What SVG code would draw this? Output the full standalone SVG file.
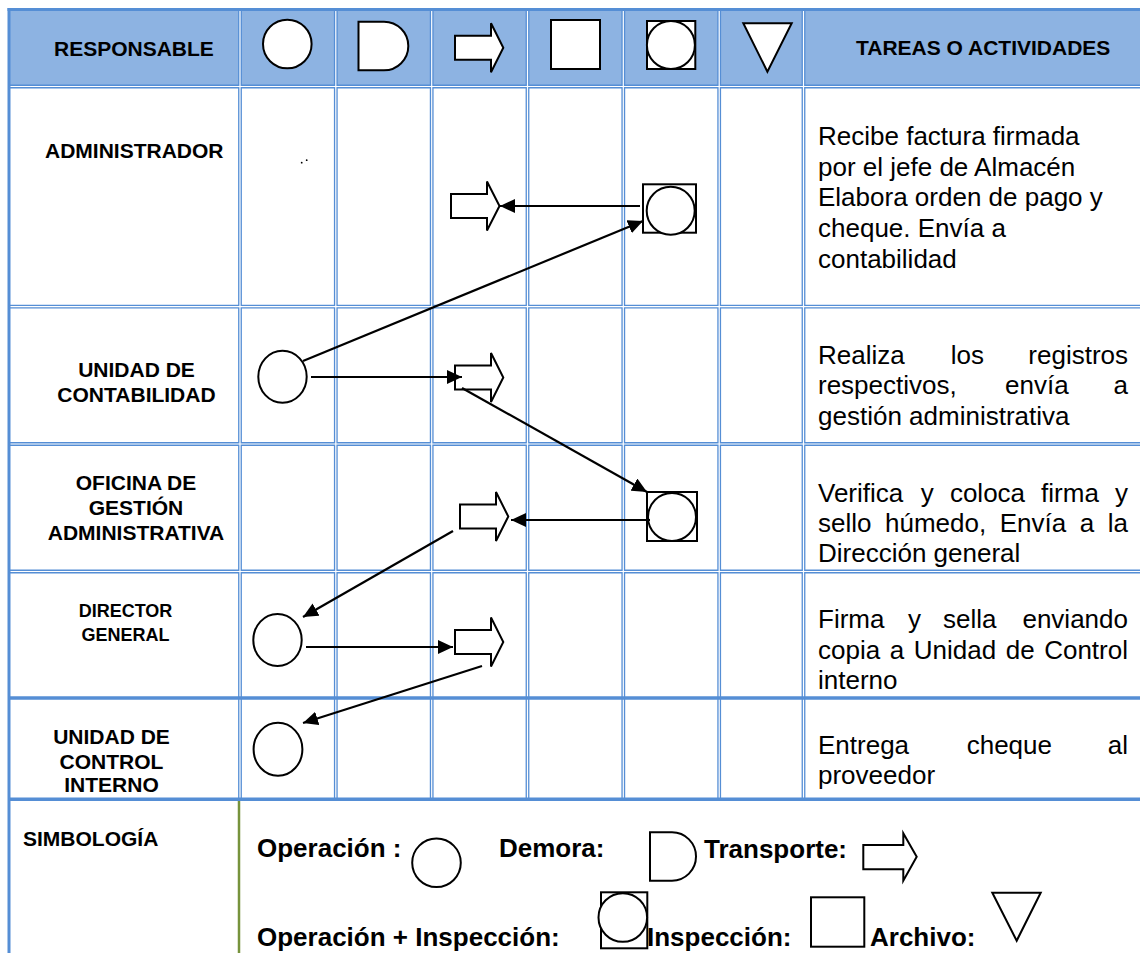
<svg xmlns="http://www.w3.org/2000/svg" width="1140" height="953" viewBox="0 0 1140 953">
<style>
.lbl{font-family:"Liberation Sans",Arial,sans-serif;font-weight:bold;font-size:21px;fill:#000}
.mid{text-anchor:middle}
.task{font-family:"Liberation Sans",Arial,sans-serif;font-size:26px;fill:#000}
.end{text-anchor:end}
.leg{font-family:"Liberation Sans",Arial,sans-serif;font-weight:bold;font-size:26px;fill:#000}
.sym{fill:#fff;stroke:#000;stroke-width:2}
.dbl{stroke:#558ED5;stroke-width:3.8;fill:none}
.wht{stroke:#fff;stroke-width:1.2;fill:none}
.sgl{stroke:#558ED5;stroke-width:3.5;fill:none}
.con{stroke:#000;stroke-width:2.2;fill:none;marker-end:url(#ah)}
</style>
<defs>
<marker id="ah" markerUnits="userSpaceOnUse" markerWidth="16" markerHeight="14" refX="15" refY="7" orient="auto">
<path d="M0,0 L15,7 L0,14 Z" fill="#000"/>
</marker>
</defs>
<rect x="0" y="0" width="1140" height="953" fill="#fff"/>
<g id="grid">
<rect x="10" y="11" width="1130" height="75" fill="#8DB3E2"/>
<g class="dbl">
<line x1="240" y1="11" x2="240" y2="798"/>
<line x1="335.8" y1="11" x2="335.8" y2="798"/>
<line x1="431.7" y1="11" x2="431.7" y2="798"/>
<line x1="527.5" y1="11" x2="527.5" y2="798"/>
<line x1="623.3" y1="11" x2="623.3" y2="798"/>
<line x1="719.2" y1="11" x2="719.2" y2="798"/>
<line x1="803.5" y1="11" x2="803.5" y2="798"/>
<line x1="10" y1="86.5" x2="1140" y2="86.5"/>
<line x1="10" y1="306.7" x2="1140" y2="306.7"/>
<line x1="10" y1="444" x2="1140" y2="444"/>
<line x1="10" y1="571.5" x2="1140" y2="571.5"/>
</g>
<g class="wht">
<line x1="240" y1="11" x2="240" y2="798"/>
<line x1="335.8" y1="11" x2="335.8" y2="798"/>
<line x1="431.7" y1="11" x2="431.7" y2="798"/>
<line x1="527.5" y1="11" x2="527.5" y2="798"/>
<line x1="623.3" y1="11" x2="623.3" y2="798"/>
<line x1="719.2" y1="11" x2="719.2" y2="798"/>
<line x1="803.5" y1="11" x2="803.5" y2="798"/>
<line x1="10" y1="86.5" x2="1140" y2="86.5"/>
<line x1="10" y1="306.7" x2="1140" y2="306.7"/>
<line x1="10" y1="444" x2="1140" y2="444"/>
<line x1="10" y1="571.5" x2="1140" y2="571.5"/>
</g>
<g class="sgl">
<line x1="9" y1="698" x2="1140" y2="698"/>
<line x1="9" y1="799.3" x2="1140" y2="799.3"/>
<line x1="7.5" y1="9.5" x2="1140" y2="9.5" stroke-width="3"/>
<line x1="9" y1="8" x2="9" y2="953" stroke-width="3"/>
</g>
<line x1="239" y1="801" x2="239" y2="953" stroke="#77933C" stroke-width="2.5"/>
</g>
<g id="header">
<text class="lbl" x="54" y="56">RESPONSABLE</text>
<text class="lbl" x="856" y="55">TAREAS O ACTIVIDADES</text>
<circle class="sym" cx="287.3" cy="44" r="24.3"/>
<path class="sym" d="M358.5,21.7 H384 A24.3,24.3 0 0 1 384,70.3 H358.5 Z"/>
<path class="sym" d="M455,35.7 H491 V23.2 L503.3,47.7 L491,72.2 V59.7 H455 Z"/>
<rect class="sym" x="551" y="20" width="49" height="49"/>
<rect class="sym" x="647" y="21" width="48.3" height="48"/>
<circle class="sym" cx="670.9" cy="45" r="24"/>
<path class="sym" d="M743.3,23.3 H791.7 L767.4,71.7 Z"/>
</g>
<g id="row-administrador">
<text class="lbl" x="45" y="158">ADMINISTRADOR</text>
<circle cx="301.7" cy="162.7" r="0.9" fill="#000"/>
<circle cx="306.7" cy="160.2" r="0.9" fill="#000"/>
<text class="task" x="818" y="145">Recibe factura firmada</text>
<text class="task" x="818" y="175.7">por el jefe de Almacén</text>
<text class="task" x="818" y="206.3">Elabora orden de pago y</text>
<text class="task" x="818" y="236.9">cheque. Envía a</text>
<text class="task" x="818" y="267.5">contabilidad</text>
</g>
<g id="n1-transporte">
<path class="sym" d="M451,194 H487 V181.5 L499.5,206 L487,230.5 V218 H451 Z"/>
</g>
<g id="n1-opinsp">
<rect class="sym" x="643" y="184.3" width="53" height="48.4"/>
<circle class="sym" cx="670.7" cy="210.7" r="24"/>
</g>
<g id="row-contabilidad">
<text class="lbl mid" x="136.5" y="377">UNIDAD DE</text>
<text class="lbl mid" x="136.5" y="402">CONTABILIDAD</text>
<text class="task" x="818" y="364">Realiza</text>
<text class="task" x="950.7" y="364">los</text>
<text class="task end" x="1128" y="364">registros</text>
<text class="task" x="818" y="394.3">respectivos,</text>
<text class="task" x="1005" y="394.3">envía</text>
<text class="task end" x="1128" y="394.3">a</text>
<text class="task" x="818" y="424.5">gestión administrativa</text>
</g>
<g id="n2-operacion">
<ellipse class="sym" cx="282.5" cy="376.7" rx="24.2" ry="26"/>
</g>
<g id="n2-transporte">
<path class="sym" d="M455,365.5 H491 V353 L503.3,377.5 L491,402 V389.5 H455 Z"/>
</g>
<g id="row-oficina">
<text class="lbl mid" x="136" y="490">OFICINA DE</text>
<text class="lbl mid" x="136" y="515">GESTIÓN</text>
<text class="lbl mid" x="136" y="540">ADMINISTRATIVA</text>
<text class="task" x="818" y="501.5">Verifica</text>
<text class="task" x="920.8" y="501.5">y</text>
<text class="task" x="949.9" y="501.5">coloca</text>
<text class="task" x="1041.1" y="501.5">firma</text>
<text class="task end" x="1128" y="501.5">y</text>
<text class="task" x="818" y="532">sello</text>
<text class="task" x="885" y="532">húmedo,</text>
<text class="task" x="999.7" y="532">Envía</text>
<text class="task" x="1079.7" y="532">a</text>
<text class="task end" x="1128" y="532">la</text>
<text class="task" x="818" y="562">Dirección general</text>
</g>
<g id="n3-transporte">
<path class="sym" d="M460,504.5 H496 V492 L508.3,516.5 L496,541 V528.5 H460 Z"/>
</g>
<g id="n3-opinsp">
<rect class="sym" x="647" y="492" width="50" height="49"/>
<circle class="sym" cx="672" cy="517" r="24"/>
</g>
<g id="row-director">
<text class="lbl mid" x="125.5" y="617" style="font-size:18px">DIRECTOR</text>
<text class="lbl mid" x="125.5" y="641" style="font-size:18px">GENERAL</text>
<text class="task" x="818" y="628.3">Firma</text>
<text class="task" x="908" y="628.3">y</text>
<text class="task" x="943" y="628.3">sella</text>
<text class="task end" x="1128" y="628.3">enviando</text>
<text class="task" x="818" y="659">copia</text>
<text class="task" x="889.7" y="659">a</text>
<text class="task" x="913.8" y="659">Unidad</text>
<text class="task" x="1005.8" y="659">de</text>
<text class="task end" x="1128" y="659">Control</text>
<text class="task" x="818" y="689.3">interno</text>
</g>
<g id="n4-operacion">
<ellipse class="sym" cx="277.5" cy="640" rx="24.2" ry="26"/>
</g>
<g id="n4-transporte">
<path class="sym" d="M455,630 H491 V617.5 L503.3,642 L491,666.5 V654 H455 Z"/>
</g>
<g id="row-control">
<text class="lbl mid" x="111.5" y="744">UNIDAD DE</text>
<text class="lbl mid" x="111.5" y="769">CONTROL</text>
<text class="lbl mid" x="111.5" y="792">INTERNO</text>
<text class="task" x="818" y="754">Entrega</text>
<text class="task" x="966.7" y="754">cheque</text>
<text class="task end" x="1128" y="754">al</text>
<text class="task" x="818" y="784">proveedor</text>
</g>
<g id="n5-operacion">
<ellipse class="sym" cx="278" cy="749.3" rx="24.4" ry="26.5"/>
</g>
<g id="connectors">
<line class="con" x1="640" y1="206" x2="500" y2="206"/>
<line class="con" x1="303" y1="361" x2="643" y2="221"/>
<line class="con" x1="311" y1="377" x2="462" y2="377"/>
<line class="con" x1="462" y1="388" x2="647" y2="492"/>
<line class="con" x1="650" y1="520" x2="511" y2="520"/>
<line class="con" x1="453" y1="531" x2="303" y2="617"/>
<line class="con" x1="306" y1="647" x2="453" y2="647"/>
<line class="con" x1="482" y1="666" x2="303" y2="723"/>
</g>
<g id="simbologia">
<text class="lbl" x="23" y="846">SIMBOLOGÍA</text>
<text class="leg" x="257" y="857">Operación :</text>
<circle class="sym" cx="436.5" cy="862.8" r="24.3" stroke-width="1.8"/>
<text class="leg" x="499" y="857">Demora:</text>
<path class="sym" stroke-width="1.8" d="M650,832.3 H672 A24,24.2 0 0 1 672,880.7 H650 Z"/>
<text class="leg" x="704" y="858">Transporte:</text>
<path class="sym" stroke-width="1.8" d="M863.3,845 H903.3 V833.3 L916.7,856.8 L903.3,880.7 V869.3 H863.3 Z"/>
<text class="leg" x="257" y="946">Operación + Inspección:</text>
<rect class="sym" stroke-width="1.8" x="601" y="892.3" width="46.3" height="56"/>
<circle class="sym" stroke-width="1.8" cx="622.8" cy="917.5" r="24.3"/>
<text class="leg" x="647" y="946">Inspección:</text>
<rect class="sym" stroke-width="1.8" x="811" y="897.3" width="53.3" height="49.4"/>
<text class="leg" x="870" y="946">Archivo:</text>
<path class="sym" stroke-width="1.8" d="M992.3,892.7 H1040.7 L1016.7,940.7 Z"/>
</g>
</svg>
